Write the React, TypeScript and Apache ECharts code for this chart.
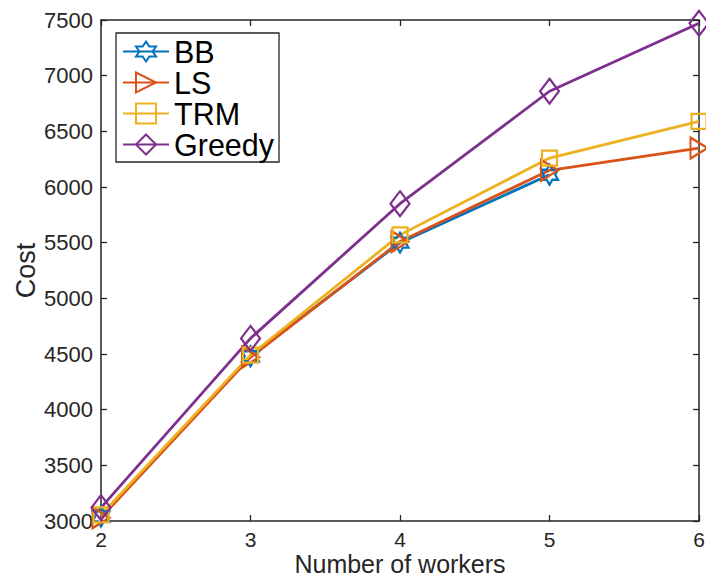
import React, { useEffect, useRef } from "react";
import * as echarts from "echarts";

const workers = [2, 3, 4, 5, 6];
const bbCost = [3040, 4480, 5500, 6110];
const lsCost = [3030, 4470, 5510, 6150, 6350];
const trmCost = [3055, 4490, 5570, 6260, 6590];
const greedyCost = [3120, 4640, 5850, 6860, 7470];
const yTicks = [3000, 3500, 4000, 4500, 5000, 5500, 6000, 6500, 7000, 7500];

const HEX =
  "path://M0,-1000L288.7,-500L866,-500L577.4,0L866,500L288.7,500L0,1000L-288.7,500L-866,500L-577.4,0L-866,-500L-288.7,-500Z";
const TRI_RIGHT = "path://M-1,-1L1,0L-1,1Z";

const FONT = "'Liberation Sans', Arial, Helvetica, sans-serif";
const AX = "#262626";

function pairs(vals: number[]) {
  return vals.map((v, i) => [workers[i], v]);
}

export default function App() {
  const ref = useRef<HTMLDivElement>(null);
  useEffect(() => {
    if (!ref.current) return;
    const chart = echarts.init(ref.current, undefined, { renderer: "svg" });
    const mk = (
      name: string,
      vals: number[],
      color: string,
      symbol: string,
      symbolSize: number | number[]
    ) => ({
      name,
      type: "line",
      data: pairs(vals),
      symbol,
      symbolSize,
      showAllSymbol: true,
      clip: false,
      color,
      lineStyle: { color, width: 2.8 },
      itemStyle: { color: "rgba(0,0,0,0)", borderColor: color, borderWidth: 2.2 },
      emphasis: { disabled: true },
      z: 3,
    });
    const axisLine = { show: true, lineStyle: { color: AX, width: 1.5 } };
    const tick = { show: true, inside: true, length: 6, lineStyle: { color: AX, width: 1.3 } };
    chart.setOption({
      animation: false,
      grid: {
        left: 101,
        top: 20,
        right: 7,
        bottom: 55,
        containLabel: false,
        outerBoundsMode: "none",
      },
      legend: {
        orient: "vertical",
        left: 116,
        top: 33,
        itemWidth: 46,
        itemHeight: 25,
        itemGap: 0,
        padding: [3, 5, 2, 6],
        borderColor: AX,
        borderWidth: 1.3,
        backgroundColor: "#fff",
        textStyle: { fontFamily: FONT, fontSize: 30.5, color: "#000", lineHeight: 31 },
        data: ["BB", "LS", "TRM", "Greedy"],
        selectedMode: false,
      },
      xAxis: [
        {
          type: "value",
          min: 2,
          max: 6,
          interval: 1,
          position: "bottom",
          name: "Number of workers",
          nameLocation: "middle",
          nameGap: 30,
          nameMoveOverlap: false,
          nameTextStyle: { fontFamily: FONT, fontSize: 25, lineHeight: 25, color: AX },
          axisLine,
          axisTick: tick,
          axisLabel: { fontFamily: FONT, fontSize: 21, lineHeight: 21, color: AX, margin: 8 },
          splitLine: { show: false },
        },
        {
          type: "value",
          min: 2,
          max: 6,
          interval: 1,
          position: "top",
          axisLine,
          axisTick: tick,
          axisLabel: { show: false },
          splitLine: { show: false },
        },
      ],
      yAxis: [
        {
          type: "value",
          min: yTicks[0],
          max: yTicks[yTicks.length - 1],
          interval: 500,
          position: "left",
          name: "Cost",
          nameLocation: "middle",
          nameGap: 62,
          nameMoveOverlap: false,
          nameTextStyle: { fontFamily: FONT, fontSize: 27, color: AX },
          axisLine,
          axisTick: tick,
          axisLabel: {
            fontFamily: FONT,
            fontSize: 22,
            color: AX,
            margin: 8,
            formatter: (v: number) => String(v),
          },
          splitLine: { show: false },
        },
        {
          type: "value",
          min: yTicks[0],
          max: yTicks[yTicks.length - 1],
          interval: 500,
          position: "right",
          axisLine,
          axisTick: tick,
          axisLabel: { show: false },
          splitLine: { show: false },
        },
      ],
      series: [
        mk("BB", bbCost, "#0072BD", HEX, [17, 20]),
        mk("LS", lsCost, "#D95319", TRI_RIGHT, [17, 21]),
        mk("TRM", trmCost, "#EDB120", "rect", 15),
        mk("Greedy", greedyCost, "#7E2F8E", "diamond", [19, 25]),
      ],
    });
    return () => chart.dispose();
  }, []);
  return (
    <div
      ref={ref}
      style={{ position: "fixed", left: 0, top: 0, width: 706, height: 576, background: "#fff" }}
    />
  );
}
